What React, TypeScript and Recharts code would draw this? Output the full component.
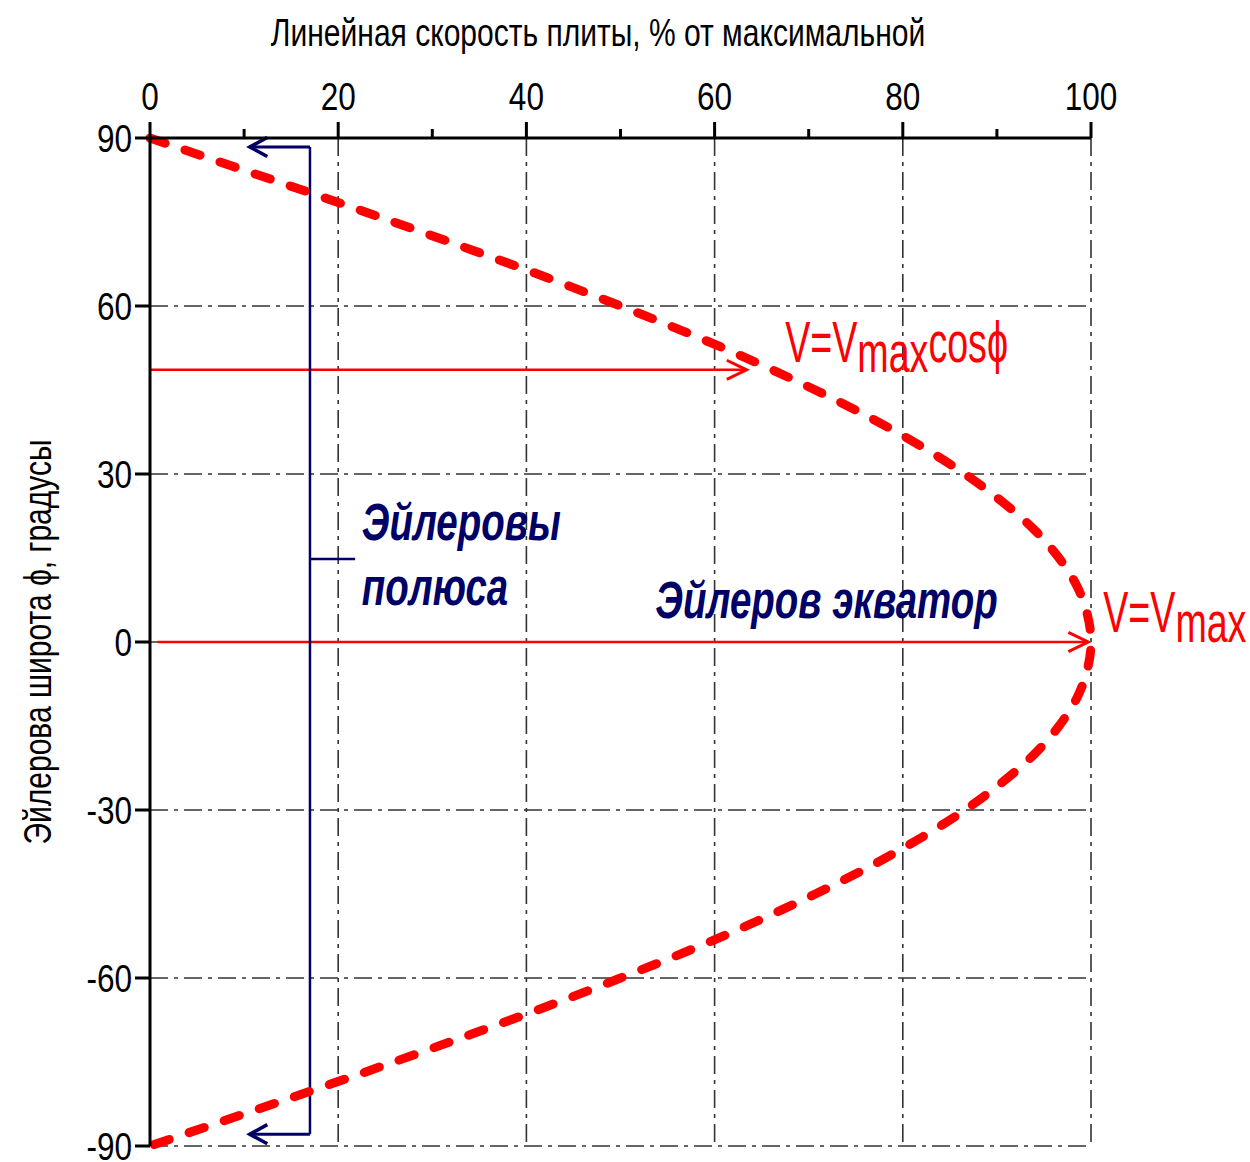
import React from 'react';
import { LineChart, Line, XAxis, YAxis, ReferenceLine, ReferenceDot } from 'recharts';

const FONT = "'Liberation Sans', Arial, sans-serif";

// Euler latitude (deg) and plate linear speed (% of max)
const latitudes = [90, 85, 80, 75, 70, 65, 60, 55, 50, 45, 40, 35, 30, 25, 20, 15, 10, 5, 0,
  -5, -10, -15, -20, -25, -30, -35, -40, -45, -50, -55, -60, -65, -70, -75, -80, -85, -90];
const speeds = [0, 8.7, 17.4, 25.9, 34.2, 42.3, 50, 57.4, 64.3, 70.7, 76.6, 81.9, 86.6, 90.6, 94, 96.6, 98.5, 99.6, 100,
  99.6, 98.5, 96.6, 94, 90.6, 86.6, 81.9, 76.6, 70.7, 64.3, 57.4, 50, 42.3, 34.2, 25.9, 17.4, 8.7, 0];

const xTicks = [0, 10, 20, 30, 40, 50, 60, 70, 80, 90, 100];
const xLabelTicks = [0, 20, 40, 60, 80, 100];
const yTicks = [90, 60, 30, 0, -30, -60, -90];
const gridX = [20, 40, 60, 80, 100];
const gridY = [60, 30, 0, -30, -60, -90];

// red arrows: [latitude, start speed, end speed]
const redArrows = [
  [48.6, 0, 63.4],
  [0, 0.8, 99.7],
];
// Euler poles bracket
const bracketX = 17;
const bracketTop = 88.4;
const bracketBottom = -87.9;
const bracketTipX = 10.6;
const bracketMidY = 14.8;
const bracketMidX = 21.8;

const xTitle = 'Линейная скорость плиты, % от максимальной';
const yTitle = 'Эйлерова широта ϕ, градусы';

const data = latitudes.map((lat, i) => ({ lat, v: speeds[i] }));

const AXS = 0.83; // horizontal squeeze for axis texts (condensed face)
const TITS = 0.79;
const REDS = 0.66;
const NAVS = 0.74;

const arrowShape = (color: string, width: number, head: number, spread: number) => (p: any) => {
  const { x1, y1, x2, y2 } = p;
  const ang = Math.atan2(y2 - y1, x2 - x1);
  const ax = x2 - head * Math.cos(ang - spread);
  const ay = y2 - head * Math.sin(ang - spread);
  const bx = x2 - head * Math.cos(ang + spread);
  const by = y2 - head * Math.sin(ang + spread);
  return (
    <g>
      <line x1={x1} y1={y1} x2={x2} y2={y2} stroke={color} strokeWidth={width} />
      <path d={`M${ax},${ay} L${x2},${y2} L${bx},${by}`} fill="none" stroke={color} strokeWidth={width + 0.5} strokeLinejoin="miter" />
    </g>
  );
};

const plainShape = (color: string, width: number) => (p: any) => (
  <line x1={p.x1} y1={p.y1} x2={p.x2} y2={p.y2} stroke={color} strokeWidth={width} />
);

const XTick = (props: any) => {
  const { x, y, payload } = props;
  const v = payload.value;
  const major = xLabelTicks.includes(v);
  return (
    <g>
      <line x1={x} x2={x} y1={y} y2={y - (major ? 16 : 9)} stroke="#000" strokeWidth={3} />
      {major && (
        <text transform={`translate(${x},${y - 28}) scale(${AXS},1)`} x={0} y={0} textAnchor="middle" fontSize={38} fontFamily={FONT} fill="#000">{v}</text>
      )}
    </g>
  );
};

const YTick = (props: any) => {
  const { x, y, payload } = props;
  return (
    <text transform={`translate(${x},${y}) scale(${AXS},1)`} x={0} y={0} dy="0.36em" textAnchor="end" fontSize={38} fontFamily={FONT} fill="#000">{payload.value}</text>
  );
};

const RED = '#ff0000';
const NAVY = '#000066';

const vmaxCos = (p: any) => (
  <text transform={`translate(${p.cx},${p.cy}) scale(${REDS},1)`} x={0} y={0} fontSize={57} fontFamily={FONT} fill={RED}>
    V=V<tspan dy={10}>max</tspan><tspan dy={-10}>cosϕ</tspan>
  </text>
);
const vmax = (p: any) => (
  <text transform={`translate(${p.cx},${p.cy}) scale(${REDS},1)`} x={0} y={0} fontSize={57} fontFamily={FONT} fill={RED}>
    V=V<tspan dy={10}>max</tspan>
  </text>
);
const navyText = (s: string) => (p: any) => (
  <text transform={`translate(${p.cx},${p.cy}) scale(${NAVS},1)`} x={0} y={0} fontSize={52} fontFamily={FONT} fontWeight="bold" fontStyle="italic" fill={NAVY} style={{ whiteSpace: 'pre' }}>{s}</text>
);

export default function App() {
  return (
    <div style={{ position: 'absolute', left: 0, top: 0, background: '#fff' }}>
      <LineChart width={1250} height={1162} data={data} margin={{ top: 88, right: 159, bottom: 16, left: 90 }}>
        <XAxis
          xAxisId={0}
          orientation="top"
          type="number"
          dataKey="v"
          domain={[0, 100]}
          ticks={xTicks}
          interval={0}
          height={50}
          tickSize={0}
          tickMargin={0}
          tickLine={false}
          axisLine={{ stroke: '#000', strokeWidth: 3 }}
          tick={<XTick />}
          label={{
            content: (p: any) => {
              const vb = p.viewBox || { x: 150, y: 88, width: 941 };
              return (
                <text transform={`translate(${vb.x + 448},${vb.y - 42}) scale(${TITS},1)`} x={0} y={0} textAnchor="middle" fontSize={38} fontFamily={FONT} fill="#000">{xTitle}</text>
              );
            },
          }}
        />
        <YAxis
          yAxisId={0}
          type="number"
          dataKey="lat"
          domain={[-90, 90]}
          ticks={yTicks}
          interval={0}
          width={60}
          tickSize={15}
          tickMargin={3}
          tickLine={{ stroke: '#000', strokeWidth: 3 }}
          axisLine={{ stroke: '#000', strokeWidth: 3 }}
          tick={<YTick />}
          label={{
            content: (p: any) => {
              const vb = p.viewBox || { x: 90, y: 138, height: 1008 };
              const cx = vb.x - 52;
              const cy = vb.y + vb.height / 2;
              return (
                <text transform={`translate(${cx},${cy}) rotate(-90) scale(${TITS},1)`} x={0} y={0} textAnchor="middle" dominantBaseline="central" fontSize={38} fontFamily={FONT} fill="#000">{yTitle}</text>
              );
            },
          }}
        />
        {gridX.map((gx) => (
          <ReferenceLine key={'gx' + gx} x={gx} stroke="#333" strokeWidth={1.6} strokeDasharray="18 6 4 6" ifOverflow="visible" />
        ))}
        {gridY.map((gy) => (
          <ReferenceLine key={'gy' + gy} y={gy} stroke="#333" strokeWidth={1.6} strokeDasharray="18 6 4 6" ifOverflow="visible" />
        ))}
        {redArrows.map(([lat, x0, x1], i) => (
          <ReferenceLine
            key={'ra' + i}
            segment={[{ x: x0, y: lat }, { x: x1, y: lat }]}
            shape={arrowShape(RED, 2.5, 22, 0.45)}
            ifOverflow="visible"
          />
        ))}
        <ReferenceLine segment={[{ x: bracketX, y: bracketTop }, { x: bracketX, y: bracketBottom }]} shape={plainShape(NAVY, 2.5)} ifOverflow="visible" />
        <ReferenceLine segment={[{ x: bracketX, y: bracketTop }, { x: bracketTipX, y: bracketTop }]} shape={arrowShape(NAVY, 3, 20, 0.5)} ifOverflow="visible" />
        <ReferenceLine segment={[{ x: bracketX, y: bracketBottom }, { x: bracketTipX, y: bracketBottom }]} shape={arrowShape(NAVY, 3, 20, 0.5)} ifOverflow="visible" />
        <ReferenceLine segment={[{ x: bracketX, y: bracketMidY }, { x: bracketMidX, y: bracketMidY }]} shape={plainShape(NAVY, 2.5)} ifOverflow="visible" />
        <Line
          type="natural"
          dataKey="lat"
          stroke={RED}
          strokeWidth={9}
          strokeDasharray="16 21"
          strokeLinecap="round"
          dot={false}
          activeDot={false}
          isAnimationActive={false}
        />
        <ReferenceDot x={67.5} y={50} r={1} ifOverflow="visible" shape={vmaxCos} />
        <ReferenceDot x={101.3} y={1.8} r={1} ifOverflow="visible" shape={vmax} />
        <ReferenceDot x={22.5} y={18.2} r={1} ifOverflow="visible" shape={navyText('Эйлеровы')} />
        <ReferenceDot x={22.5} y={6.6} r={1} ifOverflow="visible" shape={navyText('полюса')} />
        <ReferenceDot x={53.7} y={4.3} r={1} ifOverflow="visible" shape={navyText('Эйлеров экватор')} />
      </LineChart>
    </div>
  );
}
